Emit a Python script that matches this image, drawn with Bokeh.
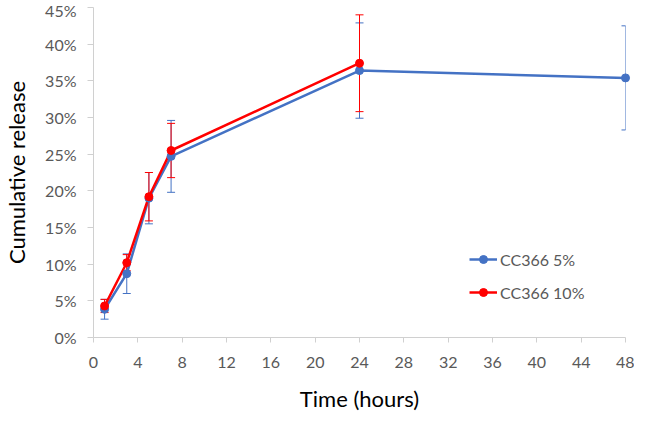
from bokeh.plotting import figure
from bokeh.models import (ColumnDataSource, Whisker, TeeHead, Legend, LegendItem,
                          FixedTicker, PrintfTickFormatter, Range1d)
from bokeh.embed import file_html
from bokeh.resources import INLINE

# ---- data ----
time_5 = [1, 3, 5, 7, 24, 48]
release_5 = [3.85, 8.7, 19.0, 24.7, 36.4, 35.4]
err_5 = [1.35, 2.7, 3.5, 4.9, 6.5, 7.1]

time_10 = [1, 3, 5, 7, 24]
release_10 = [4.3, 10.2, 19.2, 25.5, 37.4]
err_10 = [0.9, 1.1, 3.3, 3.7, 6.6]

series_names = ["CC366 5%", "CC366 10%"]
x_ticks = list(range(0, 49, 4))
y_ticks = list(range(0, 46, 5))

BLUE = "#4472C4"
RED = "#FF0000"
FONT = "Lato"

src5 = ColumnDataSource(dict(x=time_5, y=release_5,
                             lo=[v - e for v, e in zip(release_5, err_5)],
                             hi=[v + e for v, e in zip(release_5, err_5)]))
src10 = ColumnDataSource(dict(x=time_10, y=release_10,
                              lo=[v - e for v, e in zip(release_10, err_10)],
                              hi=[v + e for v, e in zip(release_10, err_10)]))

p = figure(width=634, height=414, output_backend="svg", toolbar_location=None,
           x_range=Range1d(0, 48), y_range=Range1d(0, 45),
           min_border_left=93, min_border_right=9, min_border_top=7, min_border_bottom=76)
p.outline_line_color = None
p.grid.visible = False
p.background_fill_color = "white"
p.border_fill_color = "white"

# blue series
l5 = p.line("x", "y", source=src5, line_color=BLUE, line_width=2.5)
w5 = Whisker(source=src5, base="x", upper="hi", lower="lo", line_color=BLUE, line_width=1,
             upper_head=TeeHead(size=8, line_color=BLUE, line_width=1),
             lower_head=TeeHead(size=8, line_color=BLUE, line_width=1))
p.add_layout(w5)
s5 = p.scatter("x", "y", source=src5, size=8, fill_color=BLUE, line_color=BLUE, level="overlay")

# red series
l10 = p.line("x", "y", source=src10, line_color=RED, line_width=2.5)
w10 = Whisker(source=src10, base="x", upper="hi", lower="lo", line_color=RED, line_width=1,
              upper_head=TeeHead(size=8, line_color=RED, line_width=1),
              lower_head=TeeHead(size=8, line_color=RED, line_width=1))
p.add_layout(w10)
s10 = p.scatter("x", "y", source=src10, size=8, fill_color=RED, line_color=RED, level="overlay")

# axes
p.xaxis.ticker = FixedTicker(ticks=x_ticks)
p.yaxis.ticker = FixedTicker(ticks=y_ticks)
p.yaxis.formatter = PrintfTickFormatter(format="%d%%")
for ax in (p.xaxis, p.yaxis):
    ax.axis_line_color = "#d0d0d0"
    ax.axis_line_width = 1
    ax.major_tick_line_color = "#d0d0d0"
    ax.minor_tick_line_color = None
    ax.major_tick_in = 0
    ax.major_label_text_font = FONT
    ax.major_label_text_font_size = "16px"
    ax.major_label_text_color = "#595959"
    ax.axis_label_text_font = FONT
    ax.axis_label_text_font_size = "22px"
    ax.axis_label_text_font_style = "normal"
    ax.axis_label_text_color = "#000000"
p.xaxis.major_tick_out = 5
p.yaxis.major_tick_out = 6
p.xaxis.major_label_standoff = 14
p.yaxis.major_label_standoff = 11
p.xaxis.axis_label = "Time (hours)"
p.yaxis.axis_label = "Cumulative release"
p.xaxis.axis_label_standoff = 14
p.yaxis.axis_label_standoff = 12

legend = Legend(items=[LegendItem(label=series_names[0], renderers=[l5, s5]),
                       LegendItem(label=series_names[1], renderers=[l10, s10])],
                location=(376, 35), orientation="vertical")
legend.border_line_color = None
legend.background_fill_alpha = 0
legend.padding = 0
legend.margin = 0
legend.spacing = 13
legend.glyph_width = 28
legend.glyph_height = 20
legend.label_height = 20
legend.label_standoff = 3
legend.label_text_font = FONT
legend.label_text_font_size = "16px"
legend.label_text_color = "#595959"
p.add_layout(legend)

open("out.html", "w").write(file_html(p, INLINE))
